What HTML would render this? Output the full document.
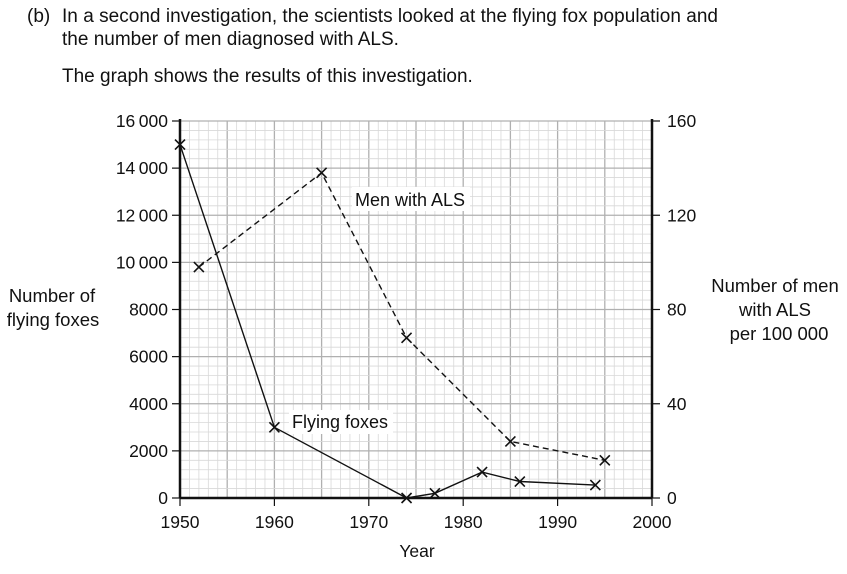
<!DOCTYPE html>
<html><head><meta charset="utf-8"><style>
body{margin:0;background:#fff;width:847px;height:574px;overflow:hidden}
svg{display:block;font-family:"Liberation Sans",sans-serif}
</style></head><body>
<svg id="s" width="847" height="574" viewBox="0 0 847 574">
<g font-size="19" fill="#111">
<text x="27" y="22">(b)</text>
<text x="62" y="22" textLength="656">In a second investigation, the scientists looked at the flying fox population and</text>
<text x="62" y="45">the number of men diagnosed with ALS.</text>
<text x="62" y="82">The graph shows the results of this investigation.</text>
</g>
<g id="grid"></g>
<g id="rest" font-size="17.5" fill="#111"></g>
</svg>
<script>
const X0=180,X1=652,Y0=498,Y1=121;
const xs=y=>X0+(y-1950)*(X1-X0)/50, ys=v=>Y0-v*(Y0-Y1)/16000;
let g='';
for(let i=0;i<=50;i++){const x=X0+i*(X1-X0)/50;g+=`<line x1="${x}" y1="${Y1}" x2="${x}" y2="${Y0}" stroke="${i%5?'#d8d8d8':'#b0b0b0'}" stroke-width="${i%5?0.8:1.3}"/>`;}
for(let i=0;i<=40;i++){const y=Y0-i*(Y0-Y1)/40;g+=`<line x1="${X0}" y1="${y}" x2="${X1}" y2="${y}" stroke="${i%5?'#d8d8d8':'#b0b0b0'}" stroke-width="${i%5?0.8:1.3}"/>`;}
document.getElementById('grid').innerHTML=g;
let r='';
r+=`<line x1="${X0}" y1="${Y1-2}" x2="${X0}" y2="${Y0}" stroke="#111" stroke-width="2.5"/>`;
r+=`<line x1="${X1}" y1="${Y1-2}" x2="${X1}" y2="${Y0}" stroke="#111" stroke-width="2.5"/>`;
r+=`<line x1="${X0}" y1="${Y0}" x2="${X1}" y2="${Y0}" stroke="#111" stroke-width="2.5"/>`;
for(let i=0;i<=8;i++){const v=i*2000,y=ys(v);
 r+=`<line x1="${X0-8}" y1="${y}" x2="${X0}" y2="${y}" stroke="#111" stroke-width="1.2"/>`;
 const lab=v>=10000?(Math.floor(v/1000)+'\u2009'+'000'):String(v);
 r+=`<text x="${X0-12}" y="${y+6}" text-anchor="end">${lab}</text>`;}
for(let i=0;i<=4;i++){const y=ys(i*4000);
 r+=`<line x1="${X1}" y1="${y}" x2="${X1+8}" y2="${y}" stroke="#111" stroke-width="1.2"/>`;
 r+=`<text x="${X1+15}" y="${y+6}">${i*40}</text>`;}
for(let i=0;i<=5;i++){const x=xs(1950+i*10);
 r+=`<line x1="${x}" y1="${Y0}" x2="${x}" y2="${Y0+8}" stroke="#111" stroke-width="1.2"/>`;
 r+=`<text x="${x}" y="${Y0+30}" text-anchor="middle">${1950+i*10}</text>`;}
r+=`<text x="417" y="557" text-anchor="middle">Year</text>`;
r+=`<text x="52" y="302" text-anchor="middle" font-size="18.5">Number of</text><text x="53" y="326" text-anchor="middle" font-size="18.5">flying foxes</text>`;
r+=`<text x="775" y="292" text-anchor="middle" font-size="18.5">Number of men</text><text x="775" y="316" text-anchor="middle" font-size="18.5">with ALS</text><text x="779" y="340" text-anchor="middle" font-size="18.5">per 100 000</text>`;
const ff=[[1950,15000],[1960,3000],[1974,0],[1977,200],[1982,1100],[1986,700],[1994,550]];
const al=[[1952,9800],[1965,13800],[1974,6800],[1985,2400],[1995,1600]];
const pts=a=>a.map(p=>xs(p[0])+','+ys(p[1])).join(' ');
r+=`<polyline points="${pts(ff)}" fill="none" stroke="#111" stroke-width="1.4"/>`;
r+=`<polyline points="${pts(al)}" fill="none" stroke="#111" stroke-width="1.4" stroke-dasharray="6,4"/>`;
for(const p of ff.concat(al)){const x=xs(p[0]),y=ys(p[1]);
 r+=`<path d="M${x-5} ${y-5}L${x+5} ${y+5}M${x-5} ${y+5}L${x+5} ${y-5}" stroke="#111" stroke-width="1.6"/>`;}
r+=`<rect x="352" y="187" width="118" height="24" fill="#fff"/><text x="355" y="206" font-size="18">Men with ALS</text>`;
r+=`<rect x="289" y="410" width="104" height="24" fill="#fff"/><text x="292" y="428" font-size="18">Flying foxes</text>`;
document.getElementById('rest').innerHTML=r;
</script>
</body></html>
